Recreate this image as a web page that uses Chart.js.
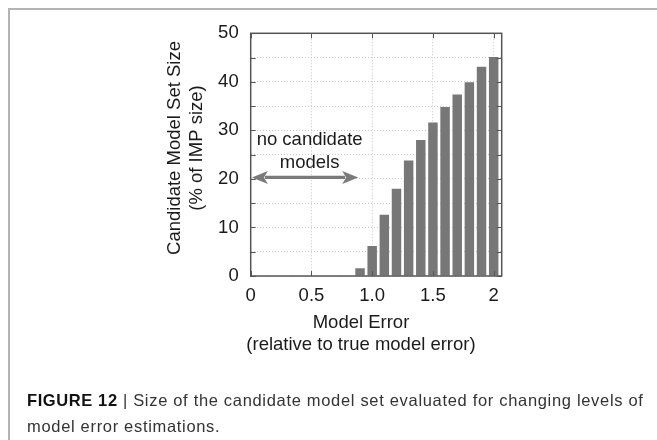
<!DOCTYPE html>
<html>
<head>
<meta charset="utf-8">
<script src="https://cdn.jsdelivr.net/npm/chart.js@4/dist/chart.umd.min.js"></script>
<style>
  html, body { margin: 0; padding: 0; background: #fff; }
  #wrap { position: relative; width: 657px; height: 440px; overflow: hidden; }
  #frame { position: absolute; left: 8px; top: 8px; width: 660px; height: 440px;
           border-top: 2px solid #b4b4b4; border-left: 2px solid #b4b4b4; }
  #chart { position: absolute; left: 0; top: 0; }
  #caption { position: absolute; left: 27px; top: 387px; width: 628px; white-space: nowrap;
             font-family: "Liberation Sans", Arial, sans-serif; font-size: 16.5px;
             letter-spacing: 0.68px; line-height: 26px; color: #333; }
  #caption b { color: #111; letter-spacing: 0.6px; }
</style>
</head>
<body>
<div id="wrap">
  <div id="frame"></div>
  <canvas id="chart" width="657" height="440"></canvas>
  <div id="caption"><b>FIGURE 12</b> | Size of the candidate model set evaluated for changing levels of<br>model error estimations.</div>
</div>
<script>
// Model error (relative to true model error) and candidate set size (% of IMP size)
const modelError = [0.9, 1.0, 1.1, 1.2, 1.3, 1.4, 1.5, 1.6, 1.7, 1.8, 1.9, 2.0];
const setSize    = [1.6, 6.2, 12.6, 18.0, 23.8, 28.0, 31.6, 34.8, 37.4, 39.9, 43.1, 45.1];

const xTickValues = [0, 0.5, 1.0, 1.5, 2.0];
const xTickLabels = ['0', '0.5', '1.0', '1.5', '2'];
const yTickValues = [0, 5, 10, 15, 20, 25, 30, 35, 40, 45, 50];
const yTickLabels = ['0', '', '10', '', '20', '', '30', '', '40', '', '50'];

const FONT = '"Liberation Sans", Arial, sans-serif';

// Frame, inward tick marks, axis titles and the "no candidate models" arrow
const decorations = {
  id: 'decorations',
  afterDatasetsDraw(chart) {
    const { ctx, chartArea: a, scales: { x, y } } = chart;
    ctx.save();
    ctx.strokeStyle = '#555';
    ctx.lineWidth = 1.5;
    ctx.strokeRect(a.left, a.top, a.right - a.left, a.bottom - a.top);

    ctx.lineWidth = 1;
    ctx.beginPath();
    yTickValues.forEach(v => {
      const py = Math.round(y.getPixelForValue(v)) + 0.5;
      ctx.moveTo(a.left, py); ctx.lineTo(a.left + 5, py);
      ctx.moveTo(a.right, py); ctx.lineTo(a.right - 5, py);
    });
    xTickValues.forEach(v => {
      const px = Math.round(x.getPixelForValue(v)) + 0.5;
      ctx.moveTo(px, a.bottom); ctx.lineTo(px, a.bottom - 5);
      ctx.moveTo(px, a.top); ctx.lineTo(px, a.top + 5);
    });
    ctx.stroke();

    // annotation arrow
    const ay = y.getPixelForValue(20.3);
    const x0 = x.getPixelForValue(0.01);
    const x1 = x.getPixelForValue(0.885);
    const head = 16, half = 6.5;
    ctx.strokeStyle = '#7a7a7a';
    ctx.fillStyle = '#7a7a7a';
    ctx.lineWidth = 3.2;
    ctx.beginPath();
    ctx.moveTo(x0 + head - 3, ay); ctx.lineTo(x1 - head + 3, ay);
    ctx.stroke();
    ctx.beginPath();
    ctx.moveTo(x0, ay); ctx.lineTo(x0 + head, ay - half); ctx.lineTo(x0 + head - 4, ay); ctx.lineTo(x0 + head, ay + half); ctx.closePath();
    ctx.fill();
    ctx.beginPath();
    ctx.moveTo(x1, ay); ctx.lineTo(x1 - head, ay - half); ctx.lineTo(x1 - head + 4, ay); ctx.lineTo(x1 - head, ay + half); ctx.closePath();
    ctx.fill();

    ctx.fillStyle = '#1a1a1a';
    ctx.font = '18.5px ' + FONT;
    ctx.textAlign = 'center';
    ctx.textBaseline = 'middle';
    const tx = x.getPixelForValue(0.485);
    ctx.fillText('no candidate', tx, y.getPixelForValue(28.0));
    ctx.fillText('models', tx, y.getPixelForValue(23.2));

    // axis titles
    ctx.fillText('Model Error', 361, 323);
    ctx.fillText('(relative to true model error)', 361, 345);
    ctx.save();
    ctx.translate(175, 148);
    ctx.rotate(-Math.PI / 2);
    ctx.fillText('Candidate Model Set Size', 0, 0);
    ctx.fillText('(% of IMP size)', 0, 22);
    ctx.restore();
    ctx.restore();
  }
};

new Chart(document.getElementById('chart'), {
  type: 'bar',
  data: {
    datasets: [{
      data: modelError.map((m, i) => ({ x: m, y: setSize[i] })),
      backgroundColor: '#777777',
      borderWidth: 0,
      categoryPercentage: 1.0,
      barPercentage: 0.78
    }]
  },
  options: {
    responsive: false,
    animation: false,
    layout: { padding: { left: 190.7, right: 155.3, top: 33.3, bottom: 124 } },
    plugins: { legend: { display: false }, tooltip: { enabled: false } },
    scales: {
      x: {
        type: 'linear',
        offset: false,
        min: 0,
        max: 2.066,
        afterBuildTicks: s => { s.ticks = xTickValues.map(v => ({ value: v })); },
        afterFit: s => { s.height = 40; },
        ticks: {
          autoSkip: false,
          maxRotation: 0,
          padding: 9,
          color: '#1a1a1a',
          font: { family: FONT, size: 18.5 },
          callback: (v, i) => xTickLabels[i]
        },
        grid: { color: '#c8c8c8', drawTicks: false, lineWidth: 1, offset: false },
        border: { display: false, dash: [1, 2] }
      },
      y: {
        min: 0,
        max: 50,
        afterBuildTicks: s => { s.ticks = yTickValues.map(v => ({ value: v })); },
        afterFit: s => { s.width = 60; },
        ticks: {
          autoSkip: false,
          padding: 12,
          color: '#1a1a1a',
          font: { family: FONT, size: 18.5 },
          callback: (v, i) => yTickLabels[i]
        },
        grid: { color: '#c8c8c8', drawTicks: false, lineWidth: 1 },
        border: { display: false, dash: [1, 2] }
      }
    }
  },
  plugins: [decorations]
});
</script>
</body>
</html>
